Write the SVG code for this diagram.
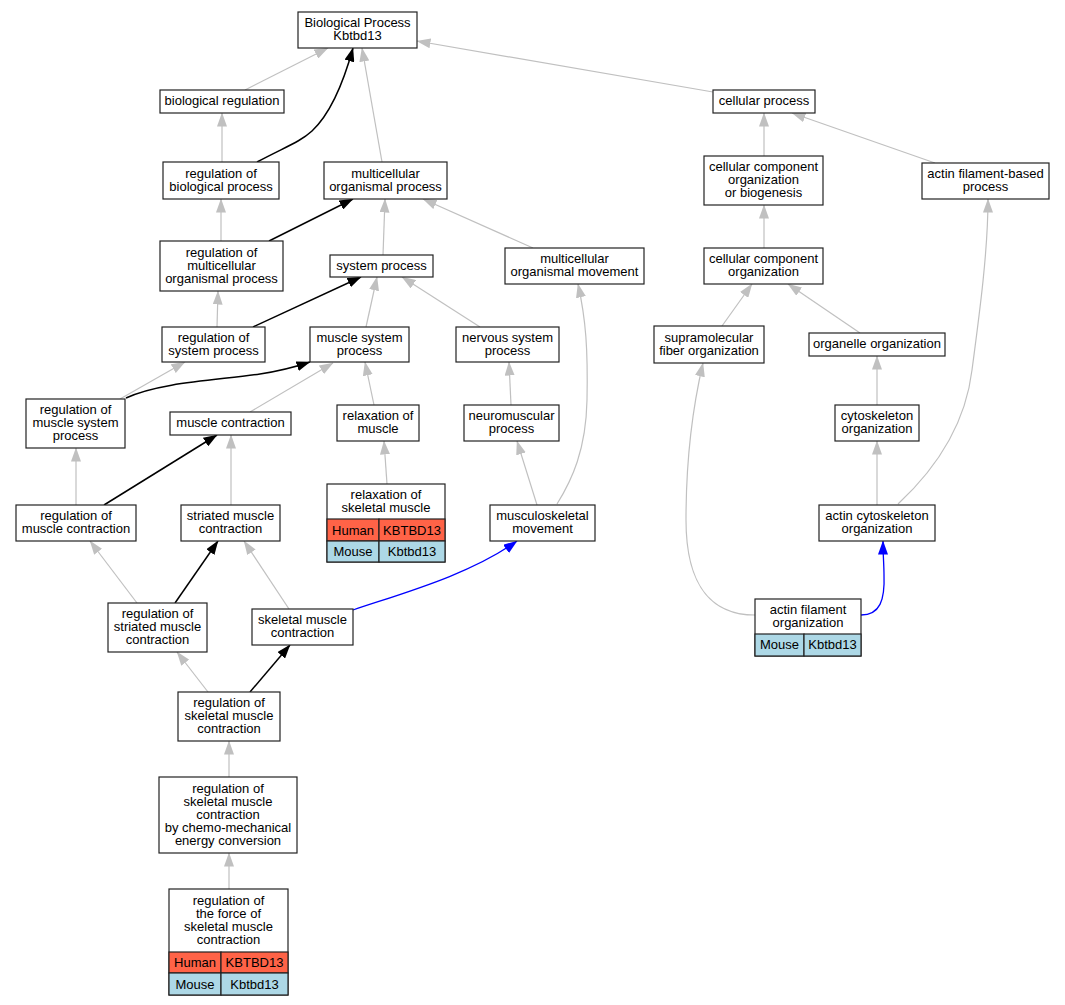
<svg xmlns="http://www.w3.org/2000/svg" width="1065" height="1005" viewBox="0 0 1065 1005">
<style>
.n rect{fill:#fff;stroke:#222;stroke-width:1.2}
.n rect.h{fill:#ff6347}
.n rect.m{fill:#add8e6}
text{font-family:"Liberation Sans",Arial,sans-serif;font-size:13px;text-anchor:middle;fill:#000}
.e path{fill:none}
.g{stroke:#c0c0c0;stroke-width:1.2}
.k{stroke:#000;stroke-width:1.5}
.b{stroke:#0000ff;stroke-width:1.3}
.g path.x,.k path.x,.b path.x{}
</style>
<defs>
<marker id="ag" viewBox="0 0 14 10" markerWidth="14" markerHeight="10" refX="13.5" refY="5" orient="auto" markerUnits="userSpaceOnUse"><path d="M0,0 L14,5 L0,10z" fill="#c0c0c0"/></marker>
<marker id="ak" viewBox="0 0 14 10" markerWidth="14" markerHeight="10" refX="13.5" refY="5" orient="auto" markerUnits="userSpaceOnUse"><path d="M0,0 L14,5 L0,10z" fill="#000"/></marker>
<marker id="ab" viewBox="0 0 14 10" markerWidth="14" markerHeight="10" refX="13.5" refY="5" orient="auto" markerUnits="userSpaceOnUse"><path d="M0,0 L14,5 L0,10z" fill="#0000ff"/></marker>
</defs>
<rect width="1065" height="1005" fill="#fff"/>
<g id="edges" class="e">
<g class="g" marker-end="url(#ag)">
<path d="M245,90 L328,48"/>
<path d="M222,162 L222,113"/>
<path d="M382,162 L362,48"/>
<path d="M221,241 L221,199"/>
<path d="M383,255 L385,199"/>
<path d="M533,248 L423,199"/>
<path d="M713,92 L417,41"/>
<path d="M217,327 L218,291"/>
<path d="M366,327 L377,277"/>
<path d="M480,327 L402,277"/>
<path d="M120,399 L185,362"/>
<path d="M250,412 L333,363"/>
<path d="M374,405 L365,362"/>
<path d="M76,505 L76,448"/>
<path d="M231,505 L231,435"/>
<path d="M387,484 L384,441"/>
<path d="M511,405 L509,362"/>
<path d="M537,505 L517,441"/>
<path d="M557,504 C572,480 586,450 587,400 C588,350 586,320 578,284"/>
<path d="M137,603 L90,541"/>
<path d="M289,609 L244,541"/>
<path d="M208,692 L177,652"/>
<path d="M229,777 L229,741"/>
<path d="M229,889 L229,853"/>
<path d="M764,156 L764,113"/>
<path d="M935,163 L792,113"/>
<path d="M764,248 L764,205"/>
<path d="M722,326 L752,284"/>
<path d="M860,333 L788,284"/>
<path d="M877,405 L877,356"/>
<path d="M877,505 L877,441"/>
<path d="M898,504 C940,465 966,420 972,370 C980,310 988,250 988,199"/>
<path d="M755,615 C715,615 686,590 686,520 C686,460 692,410 703,363"/>
</g>
<g class="k" marker-end="url(#ak)">
<path d="M257,162 C285,147 300,142 312,131 C328,116 342,88 353,48"/>
<path d="M269,241 L353,199"/>
<path d="M253,327 L361,277"/>
<path d="M126,398 C160,382 220,380 260,374 C280,371 295,367 310,362"/>
<path d="M104,505 L217,435"/>
<path d="M175,603 L218,541"/>
<path d="M250,692 L290,645"/>
</g>
<g class="b" marker-end="url(#ab)">
<path d="M353,610 C400,594 470,575 517,541"/>
<path d="M861,615 C880,615 885,600 884,575 C884,565 883,555 883,541"/>
</g>
</g>
<g id="n1" class="n"><rect x="298" y="12" width="119" height="36"/><text x="357.5" y="27">Biological Process</text><text x="357.5" y="40">Kbtbd13</text></g>
<g id="n2" class="n"><rect x="160" y="90" width="124" height="23"/><text x="222" y="105">biological regulation</text></g>
<g id="n3" class="n"><rect x="163" y="162" width="116" height="37"/><text x="221" y="177.5">regulation of</text><text x="221" y="190.5">biological process</text></g>
<g id="n4" class="n"><rect x="324" y="162" width="123" height="37"/><text x="385.5" y="177.5">multicellular</text><text x="385.5" y="190.5">organismal process</text></g>
<g id="n5" class="n"><rect x="160" y="241" width="123" height="50"/><text x="221.5" y="256.5">regulation of</text><text x="221.5" y="269.5">multicellular</text><text x="221.5" y="282.5">organismal process</text></g>
<g id="n6" class="n"><rect x="330" y="255" width="103" height="22"/><text x="381.5" y="269.5">system process</text></g>
<g id="n7" class="n"><rect x="162" y="327" width="103" height="35"/><text x="213.5" y="341.5">regulation of</text><text x="213.5" y="354.5">system process</text></g>
<g id="n8" class="n"><rect x="310" y="327" width="99" height="35"/><text x="359.5" y="341.5">muscle system</text><text x="359.5" y="354.5">process</text></g>
<g id="n9" class="n"><rect x="26" y="399" width="99" height="49"/><text x="75.5" y="414">regulation of</text><text x="75.5" y="427">muscle system</text><text x="75.5" y="440">process</text></g>
<g id="n10" class="n"><rect x="170" y="412" width="121" height="23"/><text x="230.5" y="427">muscle contraction</text></g>
<g id="n11" class="n"><rect x="337" y="405" width="82" height="36"/><text x="378" y="420">relaxation of</text><text x="378" y="433">muscle</text></g>
<g id="n12" class="n"><rect x="327" y="484" width="118" height="78"/><text x="386" y="498.5">relaxation of</text><text x="386" y="511.5">skeletal muscle</text>
<rect class="h" x="327" y="519" width="52" height="22"/><rect class="h" x="379" y="519" width="66" height="22"/>
<rect class="m" x="327" y="541" width="52" height="21"/><rect class="m" x="379" y="541" width="66" height="21"/>
<text x="353" y="534.5">Human</text><text x="412" y="534.5">KBTBD13</text><text x="353" y="556">Mouse</text><text x="412" y="556">Kbtbd13</text></g>
<g id="n13" class="n"><rect x="16" y="505" width="120" height="36"/><text x="76" y="520">regulation of</text><text x="76" y="533">muscle contraction</text></g>
<g id="n14" class="n"><rect x="181" y="505" width="99" height="36"/><text x="230.5" y="520">striated muscle</text><text x="230.5" y="533">contraction</text></g>
<g id="n15" class="n"><rect x="456" y="327" width="103" height="35"/><text x="507.5" y="341.5">nervous system</text><text x="507.5" y="354.5">process</text></g>
<g id="n16" class="n"><rect x="505" y="248" width="139" height="36"/><text x="574.5" y="263">multicellular</text><text x="574.5" y="276">organismal movement</text></g>
<g id="n17" class="n"><rect x="464" y="405" width="95" height="36"/><text x="511.5" y="420">neuromuscular</text><text x="511.5" y="433">process</text></g>
<g id="n18" class="n"><rect x="490" y="505" width="105" height="36"/><text x="542.5" y="520">musculoskeletal</text><text x="542.5" y="533">movement</text></g>
<g id="n19" class="n"><rect x="713" y="90" width="102" height="23"/><text x="764" y="105">cellular process</text></g>
<g id="n20" class="n"><rect x="704" y="156" width="119" height="49"/><text x="763.5" y="171">cellular component</text><text x="763.5" y="184">organization</text><text x="763.5" y="197">or biogenesis</text></g>
<g id="n21" class="n"><rect x="922" y="163" width="127" height="36"/><text x="985.5" y="178">actin filament-based</text><text x="985.5" y="191">process</text></g>
<g id="n22" class="n"><rect x="704" y="248" width="119" height="36"/><text x="763.5" y="263">cellular component</text><text x="763.5" y="276">organization</text></g>
<g id="n23" class="n"><rect x="654" y="326" width="110" height="37"/><text x="709" y="341.5">supramolecular</text><text x="709" y="354.5">fiber organization</text></g>
<g id="n24" class="n"><rect x="809" y="333" width="136" height="23"/><text x="877" y="348">organelle organization</text></g>
<g id="n25" class="n"><rect x="835" y="405" width="84" height="36"/><text x="877" y="420">cytoskeleton</text><text x="877" y="433">organization</text></g>
<g id="n26" class="n"><rect x="819" y="505" width="116" height="36"/><text x="877" y="520">actin cytoskeleton</text><text x="877" y="533">organization</text></g>
<g id="n27" class="n"><rect x="755" y="599" width="106" height="57"/><text x="808" y="613.5">actin filament</text><text x="808" y="626.5">organization</text>
<rect class="m" x="755" y="634" width="49" height="22"/><rect class="m" x="804" y="634" width="57" height="22"/>
<text x="779.5" y="649">Mouse</text><text x="832.5" y="649">Kbtbd13</text></g>
<g id="n28" class="n"><rect x="108" y="603" width="99" height="49"/><text x="157.5" y="618">regulation of</text><text x="157.5" y="631">striated muscle</text><text x="157.5" y="644">contraction</text></g>
<g id="n29" class="n"><rect x="252" y="609" width="101" height="36"/><text x="302.5" y="624">skeletal muscle</text><text x="302.5" y="637">contraction</text></g>
<g id="n30" class="n"><rect x="178" y="692" width="102" height="49"/><text x="229" y="707">regulation of</text><text x="229" y="720">skeletal muscle</text><text x="229" y="733">contraction</text></g>
<g id="n31" class="n"><rect x="159" y="777" width="138" height="76"/><text x="228" y="792.5">regulation of</text><text x="228" y="805.5">skeletal muscle</text><text x="228" y="818.5">contraction</text><text x="228" y="831.5">by chemo-mechanical</text><text x="228" y="844.5">energy conversion</text></g>
<g id="n32" class="n"><rect x="169" y="889" width="119" height="106"/><text x="228.5" y="904.5">regulation of</text><text x="228.5" y="917.5">the force of</text><text x="228.5" y="930.5">skeletal muscle</text><text x="228.5" y="943.5">contraction</text>
<rect class="h" x="169" y="952" width="52" height="21"/><rect class="h" x="221" y="952" width="67" height="21"/>
<rect class="m" x="169" y="973" width="52" height="22"/><rect class="m" x="221" y="973" width="67" height="22"/>
<text x="195" y="967">Human</text><text x="254.5" y="967">KBTBD13</text><text x="195" y="988.5">Mouse</text><text x="254.5" y="988.5">Kbtbd13</text></g>
</svg>
